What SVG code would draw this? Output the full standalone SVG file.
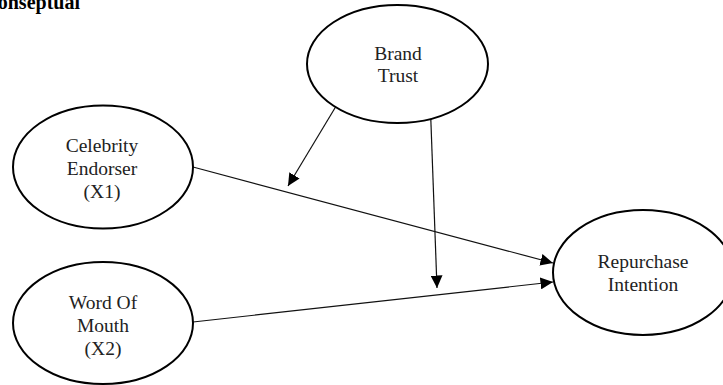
<svg xmlns="http://www.w3.org/2000/svg" width="723" height="385" viewBox="0 0 723 385">
<defs>
<style>
.node ellipse{fill:#fff;stroke:#000;stroke-width:2}
.node text{font-family:"Liberation Serif","Times New Roman",serif;font-size:19.5px;fill:#222;text-anchor:middle}
.edge{stroke:#111;stroke-width:1.2;fill:none;marker-end:url(#arr)}
.title{font-family:"Liberation Serif","Times New Roman",serif;font-size:20px;font-weight:bold;fill:#000}
</style>
<marker id="arr" markerUnits="userSpaceOnUse" markerWidth="13" markerHeight="12" refX="12.5" refY="6" orient="auto">
<path d="M0,0 L12.5,6 L0,12 z" fill="#000"/>
</marker>
</defs>
<rect width="723" height="385" fill="#fff"/>
<text class="title" x="80" y="9" text-anchor="end">onseptual</text>
<g id="connectors">
<line class="edge" x1="193" y1="167" x2="553" y2="263"/>
<line class="edge" x1="193" y1="322" x2="553" y2="282"/>
<line class="edge" x1="347" y1="88" x2="288" y2="186"/>
<line class="edge" x1="430" y1="97" x2="437" y2="288"/>
</g>
<g id="brand-trust" class="node">
<ellipse cx="397.5" cy="64" rx="90.5" ry="59" fill="none"/>
<text x="398" y="60">Brand</text>
<text x="398" y="82">Trust</text>
</g>
<g id="celebrity-endorser" class="node">
<ellipse cx="103" cy="167" rx="90" ry="61.5"/>
<text x="102" y="152">Celebrity</text>
<text x="102" y="175">Endorser</text>
<text x="102" y="198">(X1)</text>
</g>
<g id="word-of-mouth" class="node">
<ellipse cx="103" cy="323" rx="90" ry="61"/>
<text x="103" y="309">Word Of</text>
<text x="103" y="332">Mouth</text>
<text x="103" y="355">(X2)</text>
</g>
<g id="repurchase-intention" class="node">
<ellipse cx="643" cy="272.5" rx="90" ry="62.5"/>
<text x="643" y="268">Repurchase</text>
<text x="643" y="291">Intention</text>
</g>
</svg>
